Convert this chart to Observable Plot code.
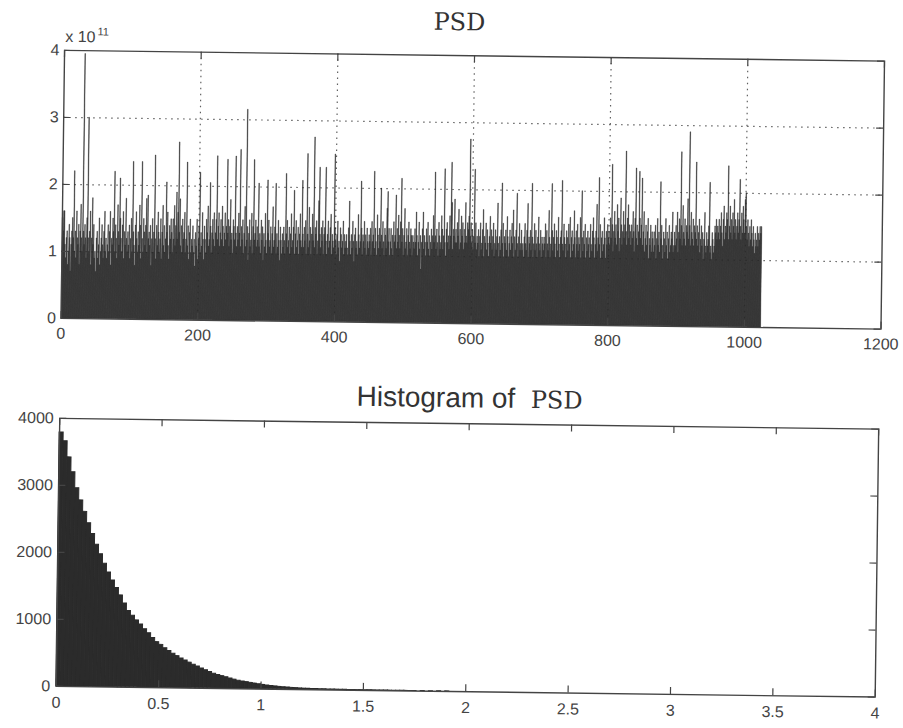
<!DOCTYPE html>
<html>
<head>
<meta charset="utf-8">
<script src="https://cdn.jsdelivr.net/npm/d3@7"></script>
<script src="https://cdn.jsdelivr.net/npm/@observablehq/plot@0.6"></script>
<style>
  html, body { margin: 0; padding: 0; background: #fff; }
  #page { position: relative; width: 903px; height: 728px; overflow: hidden; background: #fff;
          transform: rotate(0.75deg); transform-origin: 451px 364px; }
  .chart { position: absolute; left: 0; }
  .title { position: absolute; white-space: pre; color: #333; line-height: 1; }
  .courier { font-family: "DejaVu Serif", "Liberation Serif", serif; }
  .sans { font-family: "Liberation Sans", Arial, sans-serif; }
</style>
</head>
<body>
<div id="page">
  <div class="title courier" style="left:455px; top:10px; font-size:24px; transform:translateX(-50%);">PSD</div>
  <div class="title sans" style="left:61px; top:34px; font-size:16px; color:#444;">x 10<span style="font-size:11px; position:relative; top:-7px; margin-left:2px;">11</span></div>
  <div id="top" class="chart" style="top:0px;"></div>
  <div class="title" style="left:357px; top:384px;"><span class="sans" style="font-size:28px;">Histogram of  </span><span class="courier" style="font-size:24px;">PSD</span></div>
  <div id="bottom" class="chart" style="top:365px;"></div>
</div>
<script>
// ---------- Top panel: PSD values (units of 1e11), bins 1..1024 ----------
const psdXTicks = [0, 200, 400, 600, 800, 1000, 1200];
const psdYTicks = [0, 1, 2, 3, 4];
const psdValues = [
1.5,1.3,1.6,1.6,1.1,0.9,1.2,1.3,0.8,1.0,1.4,1.2,0.7,1.1,1.3,1.5,1.2,2.2,1.0,1.3,0.9,1.6,1.2,1.1,1.4,0.8,1.3,1.7,1.2,1.0,3.95,1.3,
1.1,1.4,1.2,0.9,1.5,3.0,1.2,1.0,1.3,1.6,0.8,1.2,1.8,1.1,1.4,0.9,1.0,0.7,1.2,1.3,0.9,1.1,1.5,0.8,1.0,1.2,1.4,1.1,0.9,1.3,1.6,1.0,
1.2,0.9,1.1,1.4,1.0,1.3,1.6,0.8,1.2,1.1,1.5,1.3,2.2,1.0,1.4,1.2,0.9,1.7,1.3,1.1,2.1,1.5,1.2,1.0,1.4,1.6,0.9,1.3,1.1,1.8,1.2,1.0,
1.3,1.1,1.4,0.9,1.2,1.5,1.0,2.35,1.3,1.1,0.8,1.4,1.6,1.2,1.0,1.3,1.1,1.7,1.4,0.9,2.35,1.2,1.0,1.5,1.3,1.1,1.4,1.8,1.0,1.85,1.2,1.3,
1.1,1.4,0.8,1.2,1.5,1.0,1.3,2.45,1.2,0.9,1.4,1.1,1.6,1.3,1.0,1.2,1.5,0.9,1.3,1.7,1.1,1.4,1.0,1.2,2.05,1.3,1.6,1.1,0.9,1.4,1.2,1.5,
1.3,1.0,1.5,1.2,1.7,1.1,1.4,1.9,1.2,1.6,2.65,1.3,1.8,1.1,1.4,1.0,1.5,1.2,1.3,1.6,1.0,1.2,2.35,1.1,1.4,0.9,1.3,1.5,1.0,1.2,1.1,1.4,
1.0,1.2,0.8,1.3,1.1,1.5,0.9,1.2,1.4,2.2,1.0,1.3,1.1,1.6,1.2,0.9,1.4,1.2,1.0,1.5,1.3,1.7,1.1,1.2,2.05,1.4,1.0,1.3,1.5,1.2,1.6,1.1,
1.3,1.5,2.45,1.2,1.4,1.6,1.1,1.3,1.5,1.2,1.7,1.4,1.1,1.3,1.6,1.2,1.4,2.4,1.3,1.5,1.1,1.4,1.8,1.2,1.3,1.0,1.5,1.4,1.2,2.45,1.3,1.1,
1.4,1.2,1.6,1.3,2.55,1.1,1.4,1.2,1.5,1.0,1.3,1.7,1.1,3.15,1.2,1.4,0.9,1.3,1.5,1.1,1.2,1.6,1.0,1.4,2.4,1.2,1.3,1.5,1.1,1.4,1.2,2.05,
1.1,1.3,1.0,1.5,1.2,1.4,0.9,1.3,1.1,1.6,1.2,1.0,2.1,1.3,1.5,1.1,1.2,1.4,1.0,1.3,1.7,1.1,1.2,1.4,2.05,1.0,1.3,1.1,1.5,1.2,0.9,1.4,
1.2,1.0,1.3,1.1,1.4,1.2,1.0,2.2,1.3,1.5,1.1,1.2,1.4,1.0,1.3,1.6,1.1,1.2,1.4,1.95,1.0,1.3,1.5,1.1,1.2,1.4,1.0,1.3,1.6,1.2,1.1,2.1,
1.3,1.1,1.4,1.2,1.5,1.0,2.5,1.3,1.1,1.7,1.2,1.4,1.0,1.3,1.6,1.2,2.75,1.1,1.4,1.3,1.5,1.0,1.2,1.8,2.3,1.3,1.1,1.4,1.2,1.5,1.0,1.3,
1.4,2.3,1.2,1.0,1.3,1.5,1.1,1.2,1.4,1.6,1.0,1.3,1.2,1.1,2.5,1.4,1.2,1.0,1.3,1.5,1.1,1.2,0.9,1.4,1.3,1.1,1.2,1.5,1.0,1.3,1.1,1.2,
1.3,1.1,1.0,1.4,1.8,1.2,1.0,1.3,1.1,1.5,1.2,0.9,1.3,1.4,1.1,1.2,1.0,1.6,1.3,1.1,1.2,2.1,1.4,1.0,1.3,1.2,1.5,1.1,1.3,1.0,1.4,1.2,
1.1,1.3,1.2,1.4,1.0,1.5,1.2,1.3,2.25,1.1,1.4,1.2,1.0,1.6,1.3,1.1,1.4,1.2,2.0,1.3,1.1,1.5,1.2,1.0,1.4,1.3,1.1,1.7,1.95,1.2,1.4,1.0,
1.2,1.4,1.1,1.3,1.0,1.5,1.2,1.3,1.9,1.1,1.4,1.2,1.6,1.3,1.1,1.5,2.15,1.2,1.4,1.0,1.3,1.7,1.1,1.2,1.4,1.0,1.3,1.5,1.2,1.1,1.4,1.3,
1.0,1.3,1.2,1.1,1.4,1.2,1.65,1.3,1.0,1.2,1.5,1.1,1.3,0.8,1.2,1.4,1.65,1.1,1.3,1.2,1.0,1.4,1.2,1.5,1.1,1.3,1.0,1.2,1.4,1.1,1.3,1.6,
1.2,2.25,1.3,1.1,1.4,1.2,1.0,1.5,1.3,1.1,1.2,1.6,1.4,1.1,1.3,2.3,1.2,1.0,1.4,1.5,1.2,1.3,1.1,1.6,1.3,2.4,1.8,1.1,1.4,1.3,1.85,1.2,
1.4,1.2,1.5,1.3,1.7,1.1,1.4,1.2,1.6,1.3,1.5,1.1,1.4,1.2,1.8,1.3,1.2,1.5,1.4,1.6,2.75,1.3,1.5,1.2,1.4,1.1,1.3,2.3,1.2,1.5,1.1,1.3,
1.2,1.4,1.0,1.3,1.5,1.1,1.2,1.4,1.7,1.0,1.3,1.2,1.5,1.1,1.4,1.2,1.0,1.3,1.6,1.2,1.4,1.1,1.3,1.5,1.0,1.2,1.4,1.1,1.3,1.8,1.2,1.0,
1.3,1.1,1.4,2.1,1.2,1.5,1.0,1.3,1.2,1.4,1.1,1.6,1.3,1.0,1.2,1.4,1.1,1.3,1.5,1.2,1.7,1.0,1.3,1.1,1.4,1.95,1.2,1.0,1.3,1.5,1.1,1.2,
1.4,1.1,1.2,1.0,1.3,1.5,1.2,1.1,1.4,1.8,1.0,1.3,1.2,1.4,1.1,2.1,1.3,1.0,1.2,1.5,1.1,1.4,1.2,1.0,1.3,1.6,1.2,1.1,1.4,1.0,1.3,1.2,
1.1,1.3,1.2,1.5,1.0,1.4,1.2,1.1,1.7,1.3,1.0,1.2,2.1,1.4,1.1,1.3,1.5,1.2,1.0,1.4,1.3,1.1,1.6,1.2,1.0,1.3,1.4,2.15,1.2,1.1,1.5,1.3,
1.2,1.0,1.4,1.3,1.1,1.5,1.2,1.6,1.0,1.3,1.4,1.1,1.2,1.7,1.3,1.0,1.4,1.2,1.5,1.1,1.3,1.2,1.6,1.0,2.0,1.3,1.1,1.4,1.2,1.5,1.0,1.3,
1.1,1.4,1.2,1.3,1.0,1.5,1.2,1.1,1.4,1.6,1.3,1.0,1.2,1.4,1.8,1.1,1.3,2.2,1.2,1.5,1.0,1.3,1.4,1.1,1.2,1.6,1.3,1.0,1.4,1.2,1.5,1.3,
1.4,1.2,1.6,1.3,2.4,1.5,1.1,1.4,1.7,1.3,1.5,1.2,1.8,1.4,1.6,1.1,1.3,1.9,1.5,1.2,1.4,1.7,1.3,1.5,2.6,1.4,1.2,1.6,1.8,1.3,1.5,1.4,
1.2,1.5,1.3,1.7,1.4,1.1,1.6,2.35,1.3,1.5,1.2,1.4,2.3,1.6,1.3,1.5,2.2,1.2,1.4,1.7,1.1,1.3,1.5,1.2,1.4,1.6,1.0,1.3,1.2,1.5,1.1,1.4,
1.3,1.1,1.4,1.2,1.5,1.0,1.3,1.6,1.2,1.4,1.1,2.15,1.3,1.5,1.2,1.0,1.4,1.3,1.1,1.6,1.2,1.4,1.0,1.3,1.5,1.1,1.2,1.4,1.3,1.7,1.1,1.2,
1.4,1.2,1.5,1.3,1.7,1.1,1.4,1.6,1.3,2.6,1.5,1.2,1.8,1.4,1.3,1.6,1.2,1.5,1.4,1.9,1.3,2.9,1.5,1.2,1.7,1.4,1.3,1.6,1.2,1.5,1.4,2.45,
1.3,1.5,1.2,1.4,1.6,1.1,1.3,1.5,1.2,1.4,1.0,1.3,1.7,1.2,1.1,1.4,1.2,1.3,1.5,2.15,1.1,1.2,1.0,1.4,1.3,1.1,1.2,1.5,1.4,1.6,1.3,1.5,
1.4,1.6,1.3,1.5,1.7,1.4,1.2,1.6,1.8,1.3,1.5,1.4,1.7,1.6,2.4,1.3,1.5,1.8,1.4,1.6,1.3,1.7,1.5,1.9,1.4,1.6,1.3,1.5,1.7,1.4,1.6,2.2,
1.5,1.3,1.7,1.4,1.8,1.6,1.4,1.9,2.0,1.5,1.3,1.6,1.4,1.2,1.5,1.3,1.6,1.4,1.2,1.5,1.3,1.1,1.4,1.2,1.3,1.5,1.2,1.4,1.3,1.5,1.4,1.5
];

// ---------- Bottom panel: histogram of PSD ----------
const histXTicks = [0, 0.5, 1, 1.5, 2, 2.5, 3, 3.5, 4];
const histYTicks = [0, 1000, 2000, 3000, 4000];
const histStart = 0;
const histBinWidth = 0.02;
const histCounts = [
3790,3660,3420,3200,2960,2780,2610,2440,2280,2120,
1980,1840,1710,1590,1480,1370,1250,1140,1070,1000,
940,870,810,740,680,640,590,550,510,475,
440,410,380,350,325,295,270,245,220,200,
185,170,150,135,120,110,100,90,80,70,
62,55,48,42,36,31,27,23,20,17,
15,13,11,10,9,8,7,6,6,5,
5,4,4,3,3,3,2,2,2,2,
2,1,1,1,1,1,1,1,0,1,
0,1,0,1,0,1
];

const ink = "#2b2b2b";
const axisInk = "#444";
const fontStyle = {fontFamily: "'Liberation Sans', Arial, sans-serif", fontSize: "16px", color: "#444", background: "transparent", overflow: "visible"};

// Top panel geometry
const topW = 903, topH = 360, topM = {t: 55, b: 37, l: 60, r: 23};
const topInnerW = topW - topM.l - topM.r, topInnerH = topH - topM.t - topM.b;
const tickLen = 7;

const topPlot = Plot.plot({
  width: topW, height: topH,
  marginTop: topM.t, marginBottom: topM.b, marginLeft: topM.l, marginRight: topM.r,
  style: fontStyle,
  x: {domain: [0, 1200]},
  y: {domain: [0, 4]},
  marks: [
    Plot.gridX(psdXTicks.slice(1, -1), {stroke: axisInk, strokeOpacity: 0.85, strokeDasharray: "1.5,4.5", strokeWidth: 1.2}),
    Plot.gridY(psdYTicks.slice(1, -1), {stroke: axisInk, strokeOpacity: 0.85, strokeDasharray: "1.5,4.5", strokeWidth: 1.2}),
    Plot.rect(psdValues, {x1: (d, i) => i + 0.5, x2: (d, i) => i + 1.5, y1: 0, y2: d => d, fill: ink, stroke: ink, strokeWidth: 0.35}),
    Plot.frame({stroke: axisInk, strokeWidth: 1.4}),
    Plot.tickX(psdXTicks, {x: d => d, insetTop: topInnerH - tickLen, stroke: axisInk, strokeWidth: 1.2}),
    Plot.tickX(psdXTicks, {x: d => d, insetBottom: topInnerH - tickLen, stroke: axisInk, strokeWidth: 1.2}),
    Plot.tickY(psdYTicks, {y: d => d, insetRight: topInnerW - tickLen, stroke: axisInk, strokeWidth: 1.2}),
    Plot.tickY(psdYTicks, {y: d => d, insetLeft: topInnerW - tickLen, stroke: axisInk, strokeWidth: 1.2}),
    Plot.axisX(psdXTicks, {tickSize: 0, tickPadding: 9, tickFormat: d => String(d), label: null}),
    Plot.axisY(psdYTicks, {tickSize: 0, tickPadding: 5, tickFormat: d => String(d), label: null})
  ]
});
document.getElementById("top").appendChild(topPlot);

// Bottom panel geometry
const botW = 903, botH = 363, botM = {t: 58, b: 37, l: 60, r: 24};
const botInnerW = botW - botM.l - botM.r, botInnerH = botH - botM.t - botM.b;

const botPlot = Plot.plot({
  width: botW, height: botH,
  marginTop: botM.t, marginBottom: botM.b, marginLeft: botM.l, marginRight: botM.r,
  style: fontStyle,
  x: {domain: [0, 4]},
  y: {domain: [0, 4000]},
  marks: [
    Plot.rect(histCounts, {
      x1: (d, i) => histStart + i * histBinWidth,
      x2: (d, i) => histStart + (i + 1) * histBinWidth,
      y1: 0, y2: d => d, fill: ink, stroke: ink, strokeWidth: 1
    }),
    Plot.frame({stroke: axisInk, strokeWidth: 1.4}),
    Plot.tickX(histXTicks, {x: d => d, insetTop: botInnerH - tickLen, stroke: axisInk, strokeWidth: 1.2}),
    Plot.tickX(histXTicks, {x: d => d, insetBottom: botInnerH - tickLen, stroke: axisInk, strokeWidth: 1.2}),
    Plot.tickY(histYTicks, {y: d => d, insetRight: botInnerW - tickLen, stroke: axisInk, strokeWidth: 1.2}),
    Plot.tickY(histYTicks, {y: d => d, insetLeft: botInnerW - tickLen, stroke: axisInk, strokeWidth: 1.2}),
    Plot.axisX(histXTicks, {tickSize: 0, tickPadding: 10, tickFormat: d => String(d), label: null}),
    Plot.axisY(histYTicks, {tickSize: 0, tickPadding: 6, tickFormat: d => String(d), label: null})
  ]
});
document.getElementById("bottom").appendChild(botPlot);
</script>
</body>
</html>
